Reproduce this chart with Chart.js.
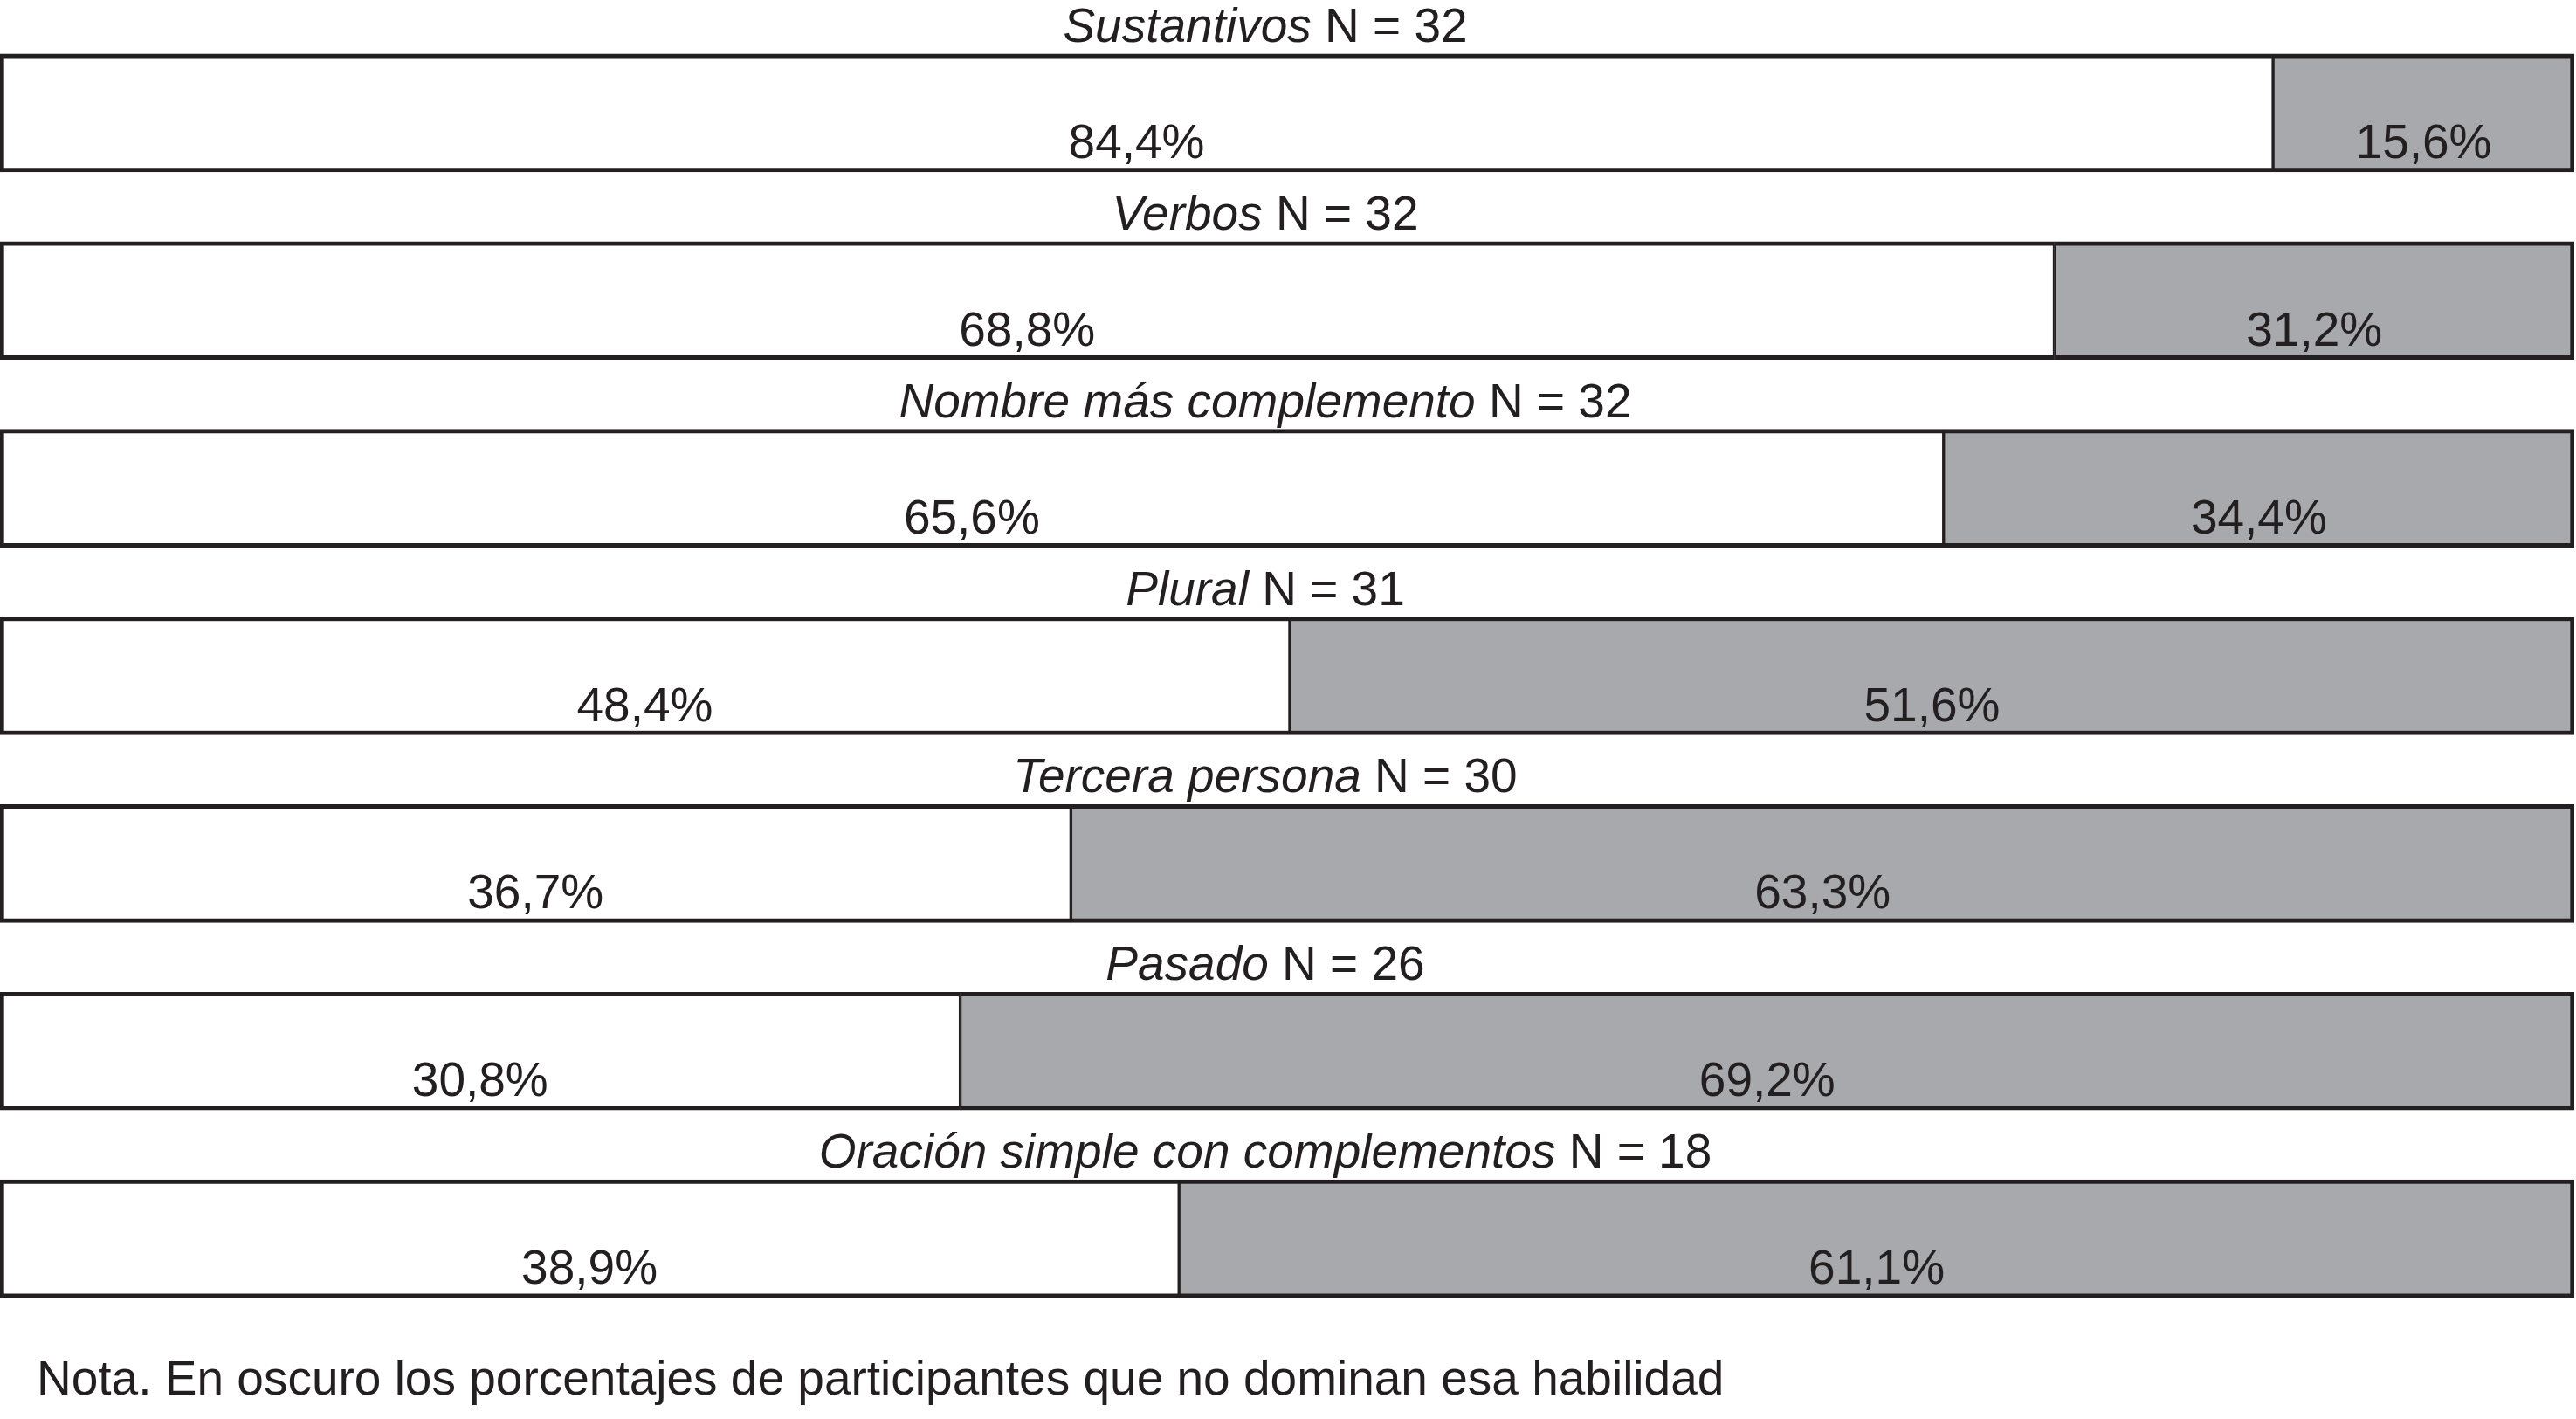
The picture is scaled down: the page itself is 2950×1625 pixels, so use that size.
<!DOCTYPE html>
<html>
<head>
<meta charset="utf-8">
<script src="https://cdn.jsdelivr.net/npm/chart.js@4.4.1/dist/chart.umd.min.js"></script>
<style>
html,body{margin:0;padding:0;background:#ffffff;overflow:hidden}
#wrap{width:2950px;height:1625px;position:relative}
</style>
</head>
<body>
<div id="wrap"><canvas id="c" width="2950" height="1625"></canvas></div>
<script>
// Categories (skills) and number of participants
const categories = ['Sustantivos', 'Verbos', 'Nombre más complemento', 'Plural', 'Tercera persona', 'Pasado', 'Oración simple con complementos'];
const nValues = [32, 32, 32, 31, 30, 26, 18];
// Printed percentages
const pctDominan = [84.4, 68.8, 65.6, 48.4, 36.7, 30.8, 38.9];
const pctNoDominan = [15.6, 31.2, 34.4, 51.6, 63.3, 69.2, 61.1];
// Segment lengths as drawn in the picture (share of the full bar)
const barDominan = [88.3, 79.8, 75.5, 50.1, 41.6, 37.3, 45.8];
const barNoDominan = [11.7, 20.2, 24.5, 49.9, 58.4, 62.7, 54.2];
const noteText = 'Nota. En oscuro los porcentajes de participantes que no dominan esa habilidad';

const FONT = "'Liberation Sans', Arial, Helvetica, sans-serif";
const FONT_SIZE = 55;
const TEXT_COLOR = '#231f20';
const fmt = v => v.toFixed(1).replace('.', ',') + '%';

const textPlugin = {
  id: 'textPlugin',
  afterDatasetsDraw(chart) {
    const ctx = chart.ctx;
    const area = chart.chartArea;
    ctx.save();
    ctx.fillStyle = TEXT_COLOR;
    ctx.textBaseline = 'alphabetic';
    const labelSets = [pctDominan, pctNoDominan];
    chart.data.datasets.forEach((ds, di) => {
      const meta = chart.getDatasetMeta(di);
      meta.data.forEach((el, i) => {
        const p = el.getProps(['x', 'base', 'y', 'height'], true);
        ctx.font = FONT_SIZE + 'px ' + FONT;
        ctx.textAlign = 'center';
        ctx.fillText(fmt(labelSets[di][i]), (p.x + p.base) / 2, p.y + p.height / 2 - 16);
      });
    });
    // Titles above each bar
    const meta0 = chart.getDatasetMeta(0);
    const cx = (area.left + area.right) / 2 - 25;
    meta0.data.forEach((el, i) => {
      const p = el.getProps(['y', 'height'], true);
      const baseY = p.y - p.height / 2 - 14;
      const italicPart = categories[i];
      const regPart = ' N = ' + nValues[i];
      ctx.font = 'italic ' + FONT_SIZE + 'px ' + FONT;
      const w1 = ctx.measureText(italicPart).width;
      ctx.font = FONT_SIZE + 'px ' + FONT;
      const w2 = ctx.measureText(regPart).width;
      const x0 = cx - (w1 + w2) / 2;
      ctx.textAlign = 'left';
      ctx.font = 'italic ' + FONT_SIZE + 'px ' + FONT;
      ctx.fillText(italicPart, x0, baseY);
      ctx.font = FONT_SIZE + 'px ' + FONT;
      ctx.fillText(regPart, x0 + w1, baseY);
    });
    // Note
    ctx.font = FONT_SIZE + 'px ' + FONT;
    ctx.textAlign = 'left';
    ctx.fillText(noteText, 42, chart.height - 28);
    ctx.restore();
  }
};

new Chart(document.getElementById('c'), {
  type: 'bar',
  data: {
    labels: categories,
    datasets: [
      {
        label: 'Dominan',
        data: barDominan,
        backgroundColor: '#ffffff',
        borderColor: '#231f20',
        borderWidth: {top: 5, bottom: 5, left: 5, right: 2},
        borderSkipped: false
      },
      {
        label: 'No dominan',
        data: barNoDominan,
        backgroundColor: '#a7a9ac',
        borderColor: '#231f20',
        borderWidth: {top: 5, bottom: 5, left: 2, right: 5},
        borderSkipped: false
      }
    ]
  },
  options: {
    indexAxis: 'y',
    responsive: false,
    devicePixelRatio: 1,
    animation: false,
    barThickness: 135,
    layout: {padding: {top: 22, bottom: 99, left: 0, right: 2}},
    scales: {
      x: {stacked: true, min: 0, max: 100, display: false},
      y: {stacked: true, display: false, offset: true}
    },
    plugins: {
      legend: {display: false},
      tooltip: {enabled: false},
      title: {display: false}
    }
  },
  plugins: [textPlugin]
});
</script>
</body>
</html>
